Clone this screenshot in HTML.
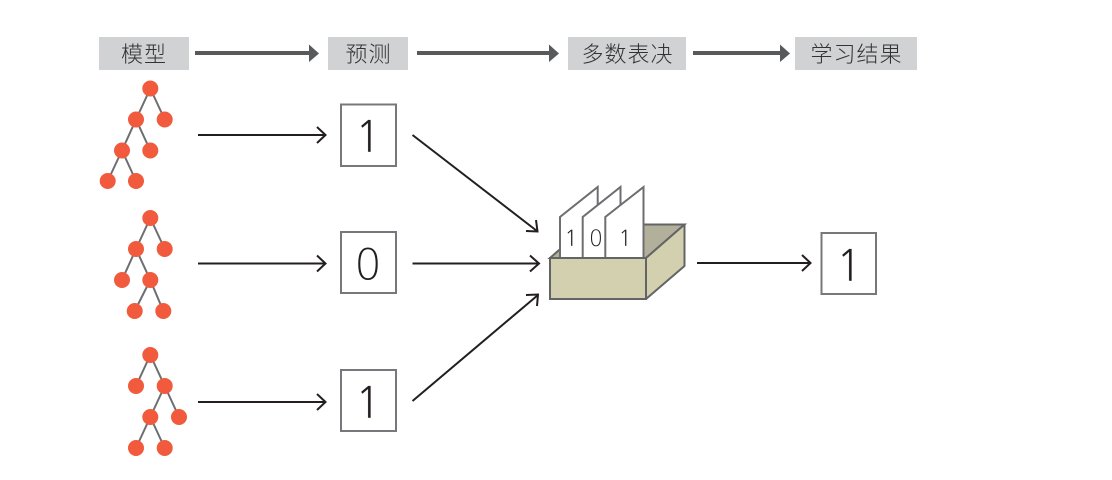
<!DOCTYPE html>
<html><head><meta charset="utf-8"><style>
html,body{margin:0;padding:0;background:#fff;width:1112px;height:480px;overflow:hidden}
svg{display:block}
.h{font-family:"Liberation Sans","Noto Sans CJK SC",sans-serif;font-weight:300;font-size:22px;fill:#333;text-anchor:middle;letter-spacing:1px}
.n{font-family:"DejaVu Sans","Liberation Sans",sans-serif;font-weight:200;fill:#231f20;text-anchor:middle}
.o{font-family:"NanumGothic","Liberation Sans",sans-serif;fill:#231f20;text-anchor:middle;stroke:#fff;stroke-width:.3px}
.t line{stroke:#6d6e71;stroke-width:2}
.t circle{fill:#f15a3c}
.a{fill:none;stroke:#231f20;stroke-width:2}
.b{fill:#fff;stroke:#77787b;stroke-width:2}
.c{fill:#fff;stroke:#6d6e71;stroke-width:2;stroke-linejoin:miter}
</style></head><body>
<svg width="1112" height="480" viewBox="0 0 1112 480" xmlns="http://www.w3.org/2000/svg">
<g fill="#d1d2d4">
<rect x="99" y="37" width="90" height="33"/><rect x="328" y="37" width="80" height="33"/>
<rect x="568" y="37" width="118" height="33"/><rect x="795" y="37" width="122" height="33"/>
</g>
<text class="h" x="144" y="62">模型</text><text class="h" x="368.500" y="62">预测</text>
<text class="h" x="627.500" y="62">多数表决</text><text class="h" x="856.500" y="62">学习结果</text>
<g stroke="#58595b" stroke-width="4"><line x1="195" y1="53" x2="310" y2="53"/><line x1="417" y1="53" x2="550" y2="53"/><line x1="693" y1="53" x2="781" y2="53"/></g>
<g fill="#58595b"><path d="M309 44.500L319 53.500L309 62z"/><path d="M549 44.500L559 53.500L549 62z"/><path d="M780 44.500L790 53.500L780 62z"/></g>

<g class="t">
<line x1="150.300" y1="88.500" x2="136" y2="119.500"/><line x1="150.300" y1="88.500" x2="164.700" y2="119.500"/><line x1="136" y1="119.500" x2="122" y2="150.500"/><line x1="136" y1="119.500" x2="150.300" y2="150.500"/><line x1="122" y1="150.500" x2="107.700" y2="181"/><line x1="122" y1="150.500" x2="136" y2="181"/>
<circle cx="150.300" cy="88.500" r="8"/><circle cx="136" cy="119.500" r="8"/><circle cx="164.700" cy="119.500" r="8"/><circle cx="122" cy="150.500" r="8"/><circle cx="150.300" cy="150.500" r="8"/><circle cx="107.700" cy="181" r="8"/><circle cx="136" cy="181" r="8"/>
</g>
<g class="t">
<line x1="150.300" y1="218" x2="136" y2="249"/><line x1="150.300" y1="218" x2="164.700" y2="249"/><line x1="136" y1="249" x2="122" y2="280"/><line x1="136" y1="249" x2="150.300" y2="280"/><line x1="150.300" y1="280" x2="134.700" y2="311"/><line x1="150.300" y1="280" x2="163.300" y2="311"/>
<circle cx="150.300" cy="218" r="8"/><circle cx="136" cy="249" r="8"/><circle cx="164.700" cy="249" r="8"/><circle cx="122" cy="280" r="8"/><circle cx="150.300" cy="280" r="8"/><circle cx="134.700" cy="311" r="8"/><circle cx="163.300" cy="311" r="8"/>
</g>
<g class="t">
<line x1="150.300" y1="355" x2="136" y2="386"/><line x1="150.300" y1="355" x2="164.700" y2="386"/><line x1="164.700" y1="386" x2="150.300" y2="417"/><line x1="164.700" y1="386" x2="179" y2="417"/><line x1="150.300" y1="417" x2="136" y2="448"/><line x1="150.300" y1="417" x2="164.700" y2="448"/>
<circle cx="150.300" cy="355" r="8"/><circle cx="136" cy="386" r="8"/><circle cx="164.700" cy="386" r="8"/><circle cx="150.300" cy="417" r="8"/><circle cx="179" cy="417" r="8"/><circle cx="136" cy="448" r="8"/><circle cx="164.700" cy="448" r="8"/>
</g>

<g class="a">
<path d="M198 135H325M317 127L325.500 135L317 143"/>
<path d="M198 263.500H325M317 255.500L325.500 263.500L317 271.500"/>
<path d="M198 402H325M317 394L325.500 402L317 410"/>
<path d="M412.500 135L537 231M526 231L537.500 231.500L536 220"/>
<path d="M412.500 263.500H539M530 255.500L539 263.500L530 271.500"/>
<path d="M412.500 401L538 295M526 295L538 294.500L537 306"/>
<path d="M697 263H810M802 255L810.500 263L802 271"/>
</g>

<rect class="b" x="341" y="104.500" width="55" height="61.500"/>
<rect class="b" x="341" y="232" width="55" height="61"/>
<rect class="b" x="341" y="370" width="55" height="61"/>
<rect class="b" x="821.500" y="233" width="54.500" height="61"/>
<text class="o" x="368" y="152" font-size="43">1</text>
<text class="n" x="368" y="279.500" font-size="43">0</text>
<text class="o" x="368" y="418" font-size="43">1</text>
<text class="o" x="849" y="281" font-size="43">1</text>

<path d="M550 258L588 224.500H684.500L646 258z" fill="#b2b09a" stroke="#636466" stroke-width="2"/>
<path class="c" d="M560 258V217L597.700 187V258z"/>
<path class="c" d="M582.700 258V217L620.500 187V258z"/>
<path class="c" d="M605.300 258V217L643.500 187V258z"/>
<text class="o" x="571" y="246" font-size="22" style="stroke-width:.2px">1</text>
<text class="n" x="596" y="246" font-size="22">0</text>
<text class="o" x="625" y="246" font-size="22" style="stroke-width:.2px">1</text>
<path d="M646 258L684.500 224.500V266L646 299z" fill="#d3d0b0" stroke="#636466" stroke-width="2" stroke-linejoin="round"/>
<rect x="550" y="258" width="96" height="41" fill="#d3d0b0" stroke="#636466" stroke-width="2"/>
</svg>
</body></html>
